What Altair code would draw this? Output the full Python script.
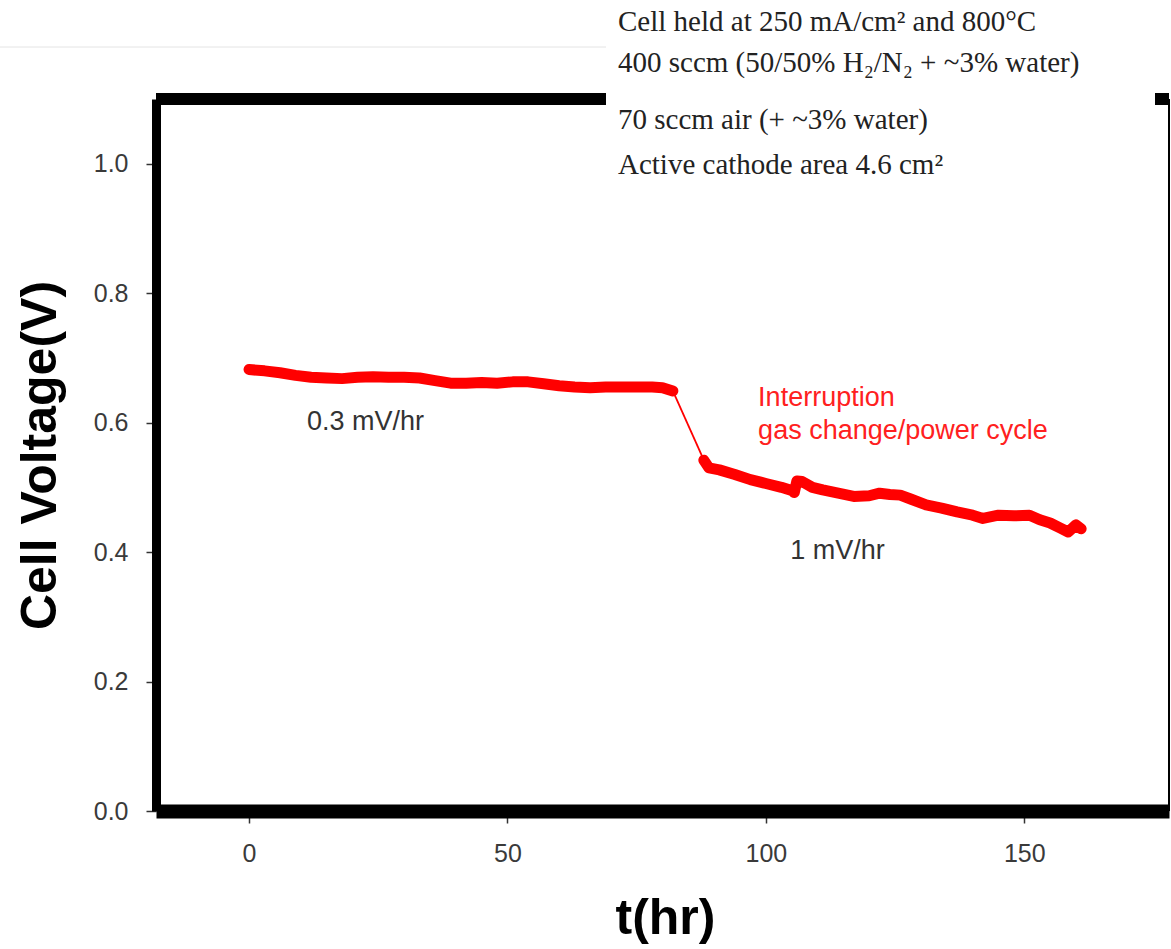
import altair as alt
import pandas as pd

# ---- data ----
seg1_t = [0, 3, 6, 9, 12, 15, 18, 21, 24, 27, 30, 33, 36, 39, 42, 45, 48, 51, 54, 57, 60, 63, 66, 69, 72, 75, 78, 80, 82]
seg1_v = [0.682, 0.680, 0.677, 0.673, 0.670, 0.669, 0.668, 0.670, 0.671, 0.670, 0.670, 0.669, 0.665, 0.661, 0.661,
          0.662, 0.661, 0.663, 0.663, 0.660, 0.657, 0.655, 0.654, 0.655, 0.655, 0.655, 0.655, 0.654, 0.649]
jump_t = [82, 88]
jump_v = [0.649, 0.542]
seg2_t = [88, 89, 91, 94, 97, 100, 103, 105, 105.5, 106, 107, 109, 111, 114, 117, 120, 122, 124, 126, 128, 131, 134,
          137, 140, 142, 145, 148, 151, 153, 155, 157, 158.5, 160, 161]
seg2_v = [0.542, 0.530, 0.527, 0.520, 0.512, 0.506, 0.500, 0.495, 0.492, 0.510, 0.509, 0.500, 0.496, 0.491, 0.486,
          0.487, 0.491, 0.489, 0.488, 0.482, 0.473, 0.468, 0.462, 0.457, 0.452, 0.457, 0.456, 0.457, 0.450, 0.445,
          0.437, 0.431, 0.442, 0.436]

x_ticks = [0, 50, 100, 150]
y_ticks = [0.0, 0.2, 0.4, 0.6, 0.8, 1.0]
x_domain = [-18, 178]
y_domain = [0, 1.1]

notes_text = ["0.3 mV/hr", "1 mV/hr"]
notes_t = [11.2, 104.7]
notes_v = [0.601, 0.402]

red_text = ["Interruption", "gas change/power cycle"]
red_t = [98.5, 98.5]
red_v = [0.638, 0.587]

box_lines = [
    "Cell held at 250 mA/cm\u00b2 and 800\u00b0C",
    "400 sccm (50/50% H\u2082/N\u2082 + ~3% water)",
    "70 sccm air (+ ~3% water)",
    "Active cathode area 4.6 cm\u00b2",
]
box_y = [-77, -36, 21, 66]

# ---- tables ----
thick = pd.DataFrame({
    "t": seg1_t + seg2_t,
    "v": seg1_v + seg2_v,
    "seg": ["a"] * len(seg1_t) + ["b"] * len(seg2_t),
})
jump = pd.DataFrame({"t": jump_t, "v": jump_v})
notes = pd.DataFrame({"txt": notes_text, "t": notes_t, "v": notes_v})
reds = pd.DataFrame({"txt": red_text, "t": red_t, "v": red_v})
box = pd.DataFrame({"txt": box_lines, "py": box_y})
one = pd.DataFrame({"a": [0]})

W, H = 1013, 712

xs = alt.Scale(domain=x_domain, nice=False, zero=False)
ys = alt.Scale(domain=y_domain, nice=False)

x_axis = alt.Axis(values=x_ticks, title="t(hr)", grid=False, format="d",
                  domainColor="black", domainWidth=14, tickColor="#333", tickSize=12, tickWidth=1.5,
                  labelFont="Liberation Sans", labelFontSize=25, labelColor="#3a3a3a", labelPadding=18,
                  titleFont="Liberation Sans", titleFontSize=50, titleFontWeight="bold", titleColor="black",
                  titleX=509, titleY=107, titleBaseline="middle", titleAlign="center")
y_axis = alt.Axis(values=y_ticks, title="Cell Voltage(V)", grid=False, format=".1f",
                  domainColor="black", domainWidth=9, tickColor="#333", tickSize=10, tickWidth=1.5,
                  labelFont="Liberation Sans", labelFontSize=25, labelColor="#3a3a3a", labelPadding=18,
                  titleFont="Liberation Sans", titleFontSize=50, titleFontWeight="bold", titleColor="black",
                  titleX=-116, titleY=356, titleAngle=270, titleBaseline="middle", titleAlign="center")

line_thick = alt.Chart(thick).mark_line(color="#ff0000", strokeWidth=11, strokeCap="round", strokeJoin="round").encode(
    x=alt.X("t:Q", scale=xs, axis=x_axis),
    y=alt.Y("v:Q", scale=ys, axis=y_axis),
    detail="seg:N",
)
line_jump = alt.Chart(jump).mark_line(color="#ff0000", strokeWidth=1.8).encode(
    x=alt.X("t:Q", scale=xs), y=alt.Y("v:Q", scale=ys)
)

top_rule = alt.Chart(one).mark_rule(color="black", strokeWidth=12).encode(y=alt.datum(1.1, scale=ys))
right_rule = alt.Chart(one).mark_rule(color="black", strokeWidth=2).encode(x=alt.datum(178, scale=xs))
faint_rule = alt.Chart(one).mark_rule(color="#e4e4e4", strokeWidth=1).encode(
    x=alt.value(-156), x2=alt.value(450), y=alt.value(-52))

white_box = alt.Chart(one).mark_rect(color="white").encode(
    x=alt.value(450), x2=alt.value(999), y=alt.value(-99), y2=alt.value(86))

box_text = alt.Chart(box).mark_text(align="left", baseline="middle", font="Liberation Serif",
                                     fontSize=29, color="#222").encode(
    x=alt.value(462), y=alt.Y("py:Q", scale=None), text="txt:N")

notes_layer = alt.Chart(notes).mark_text(align="left", baseline="middle", font="Liberation Sans",
                                          fontSize=27, color="#333").encode(
    x=alt.X("t:Q", scale=xs), y=alt.Y("v:Q", scale=ys), text="txt:N")
reds_layer = alt.Chart(reds).mark_text(align="left", baseline="middle", font="Liberation Sans",
                                        fontSize=27, color="#ff2020").encode(
    x=alt.X("t:Q", scale=xs), y=alt.Y("v:Q", scale=ys), text="txt:N")

chart = alt.layer(
    line_thick, line_jump, top_rule, right_rule, faint_rule, white_box, box_text, notes_layer, reds_layer
).properties(
    width=W, height=H,
    autosize=alt.AutoSizeParams(type="none"),
    padding={"left": 156, "top": 99, "right": 2, "bottom": 138},
).configure_view(stroke=None).configure(background="white")

chart.save("out.html", embed_options={"renderer": "svg", "actions": False})
